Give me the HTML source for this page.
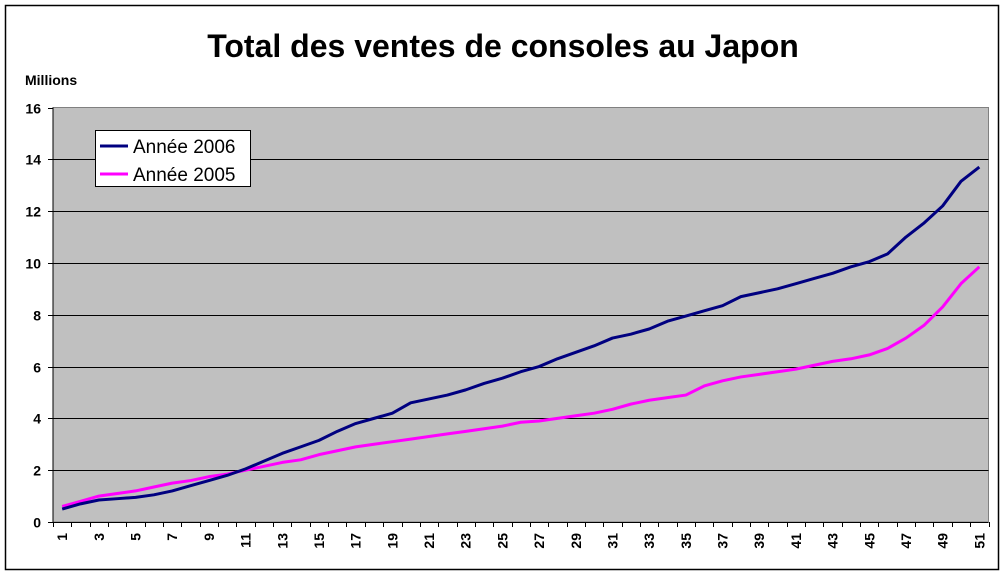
<!DOCTYPE html>
<html><head><meta charset="utf-8"><style>
body{margin:0;background:#fff;}
svg{display:block;font-family:"Liberation Sans",sans-serif;}
</style></head><body>
<svg id="chart" width="1005" height="575">
<rect x="5.5" y="5.5" width="993" height="564" fill="#fff" stroke="#000" stroke-width="1.5"/>
<text x="503" y="57" text-anchor="middle" font-size="32" font-weight="bold">Total des ventes de consoles au Japon</text>
<text x="25" y="85" font-size="14" font-weight="bold">Millions</text>
<rect x="53" y="107.5" width="935.5" height="414.5" fill="#c0c0c0" stroke="#808080"/>
<g id="grid"></g>
<g id="axes"></g>
<g id="series"></g>
<g>
<rect x="95.5" y="130.5" width="155" height="56" fill="#fff" stroke="#000"/>
<line x1="100" y1="146" x2="128" y2="146" stroke="#000080" stroke-width="3"/>
<text x="133" y="153" font-size="19">Année 2006</text>
<line x1="100" y1="174" x2="128" y2="174" stroke="#ff00ff" stroke-width="3"/>
<text x="133" y="181" font-size="19">Année 2005</text>
</g>
</svg>
<script>
const yTicks=[0,2,4,6,8,10,12,14,16];
const s2006=[0.5,0.7,0.85,0.9,0.95,1.05,1.2,1.4,1.6,1.8,2.05,2.35,2.65,2.9,3.15,3.5,3.8,4.0,4.2,4.6,4.75,4.9,5.1,5.35,5.55,5.8,6.0,6.3,6.55,6.8,7.1,7.25,7.45,7.75,7.95,8.15,8.35,8.7,8.85,9.0,9.2,9.4,9.6,9.85,10.05,10.35,11.0,11.55,12.2,13.15,13.7];
const s2005=[0.6,0.8,1.0,1.1,1.2,1.35,1.5,1.6,1.75,1.85,2.0,2.15,2.3,2.4,2.6,2.75,2.9,3.0,3.1,3.2,3.3,3.4,3.5,3.6,3.7,3.85,3.9,4.0,4.1,4.2,4.35,4.55,4.7,4.8,4.9,5.25,5.45,5.6,5.7,5.8,5.9,6.05,6.2,6.3,6.45,6.7,7.1,7.6,8.3,9.2,9.85];
const categories=s2006.map((_,i)=>i+1);
const NS="http://www.w3.org/2000/svg";
const L=53,R=988.5,T=107.5,B=522,yMax=16;
const n=categories.length, cw=(R-L)/n;
const xS=i=>L+cw*(i+0.5);
const yS=v=>B-(v/yMax)*(B-T);
function mk(t,a,p){const e=document.createElementNS(NS,t);for(const k in a)e.setAttribute(k,a[k]);p.appendChild(e);return e;}
const grid=document.getElementById('grid'),axes=document.getElementById('axes'),ser=document.getElementById('series');
yTicks.forEach(v=>{
 const y=Math.round(yS(v))+0.5;
 if(v>0&&v<yMax){const g=mk('line',{x1:L,x2:R,y1:y,y2:y,stroke:'#000','stroke-width':1},grid);
 
 }
 const tk=mk('line',{x1:L-5,x2:L,y1:y,y2:y,stroke:'#000'},axes);
 
 
 const t=mk('text',{x:L-12,y:y+5,'text-anchor':'end','font-size':14,'font-weight':'bold'},axes);
 t.textContent=v;
 
 
});
mk('line',{x1:L,x2:L,y1:T,y2:B,stroke:'#000'},axes);
mk('line',{x1:L,x2:R,y1:B+0.5,y2:B+0.5,stroke:'#000'},axes);
for(let i=0;i<=n;i++){const x=Math.round(L+cw*i)+0.5;
 const tk=mk('line',{x1:x,x2:x,y1:B,y2:B+5,stroke:'#000'},axes);
 
 }
categories.forEach((c,i)=>{if(i%2)return;const x=xS(i);
 const t=mk('text',{x:0,y:0,'text-anchor':'end','font-size':14,'font-weight':'bold',transform:`translate(${x+5},${B+11}) rotate(-90)`},axes);
 t.textContent=c;
 
 });
function line(d,col,name){const p=mk('polyline',{points:d.map((v,i)=>xS(i)+','+yS(v)).join(' '),fill:'none',stroke:col,'stroke-width':3,'stroke-linejoin':'round'},ser);
 
 }
line(s2005,'#ff00ff','series-2005-line');
line(s2006,'#000080','series-2006-line');
</script>
</body></html>
